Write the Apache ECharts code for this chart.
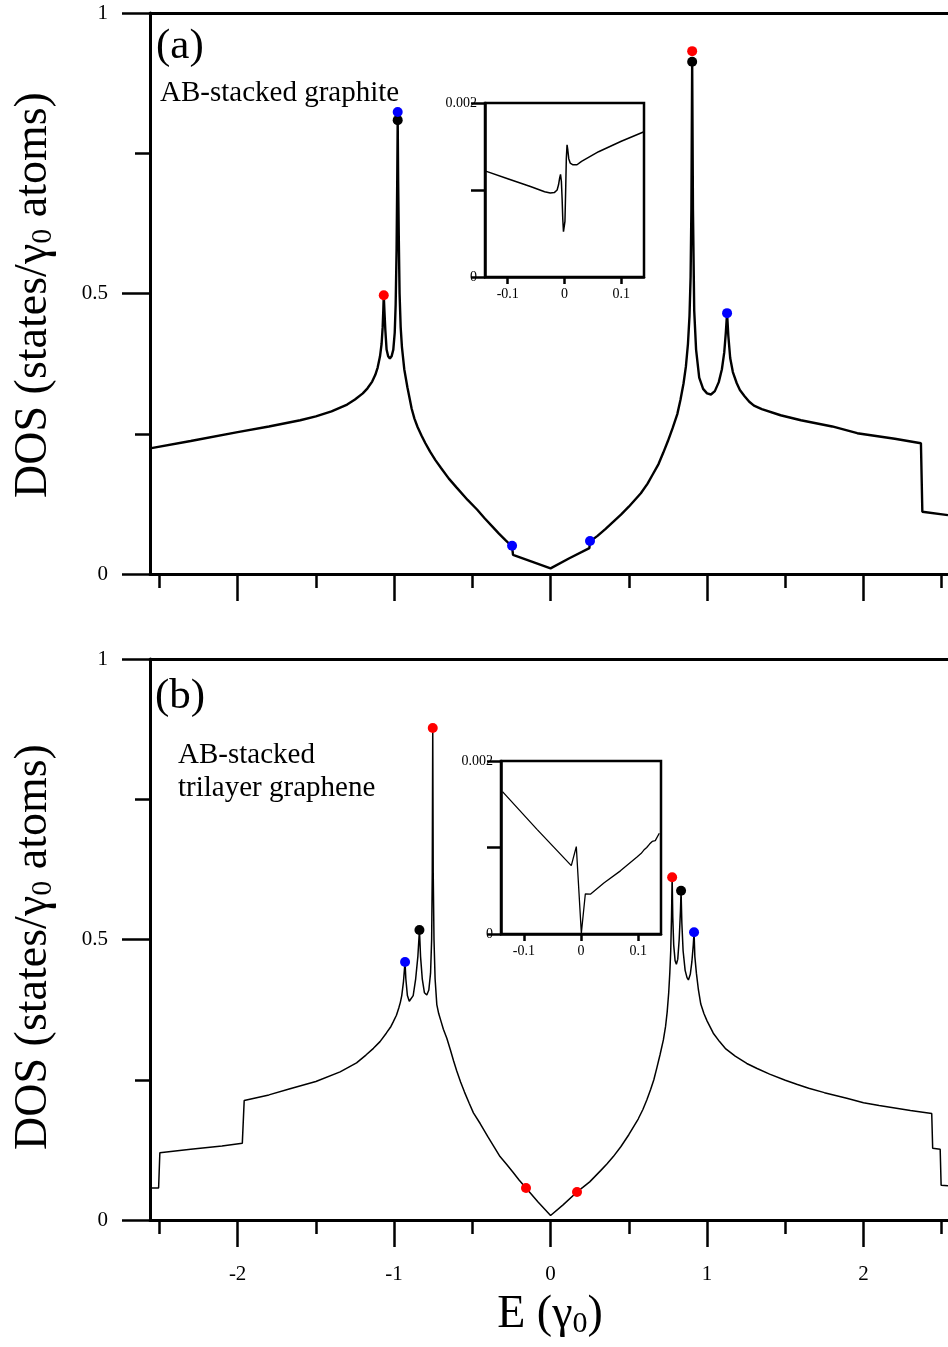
<!DOCTYPE html>
<html>
<head>
<meta charset="utf-8">
<script src="https://cdn.jsdelivr.net/npm/echarts@6/dist/echarts.min.js"></script>
<style>
  html, body { margin: 0; padding: 0; background: #fff; overflow: hidden; }
  #chart { width: 948px; height: 1347px; }
</style>
</head>
<body>
<div id="chart"></div>
<script>
// ---- (a) AB-stacked graphite: density of states ----
const energyA = [-2.56,-2.3,-2.0,-1.8,-1.6,-1.5,-1.4,-1.3,-1.25,-1.2,-1.17,-1.14,-1.12,-1.105,-1.09,-1.08,-1.073,-1.069,-1.066,-1.062,-1.056,-1.048,-1.038,-1.027,-1.016,-1.005,-0.996,-0.99,-0.984,-0.98,-0.977,-0.974,-0.97,-0.965,-0.958,-0.95,-0.935,-0.915,-0.9,-0.888,-0.87,-0.85,-0.825,-0.8,-0.77,-0.736,-0.7,-0.65,-0.6,-0.53,-0.47,-0.42,-0.37,-0.33,-0.29,-0.246,-0.24,-0.12,0,0.12,0.248,0.252,0.3,0.35,0.4,0.45,0.5,0.577,0.62,0.65,0.69,0.72,0.75,0.78,0.81,0.83,0.85,0.865,0.878,0.888,0.895,0.9,0.905,0.91,0.918,0.93,0.95,0.975,1.0,1.025,1.05,1.075,1.095,1.11,1.12,1.128,1.136,1.148,1.165,1.19,1.21,1.24,1.27,1.3,1.35,1.47,1.6,1.8,1.96,2.2,2.367,2.376,2.54];
const dosA    = [0.224,0.237,0.253,0.263,0.274,0.281,0.290,0.302,0.311,0.322,0.331,0.343,0.355,0.368,0.388,0.41,0.44,0.47,0.497,0.47,0.435,0.40,0.388,0.384,0.388,0.400,0.43,0.48,0.58,0.70,0.809,0.70,0.60,0.50,0.44,0.405,0.365,0.333,0.312,0.295,0.277,0.262,0.247,0.233,0.218,0.203,0.189,0.170,0.154,0.132,0.115,0.099,0.084,0.072,0.061,0.049,0.034,0.022,0.010,0.028,0.046,0.058,0.068,0.080,0.093,0.106,0.120,0.144,0.161,0.176,0.196,0.216,0.237,0.260,0.285,0.31,0.34,0.37,0.41,0.46,0.53,0.65,0.913,0.65,0.47,0.40,0.350,0.330,0.322,0.320,0.326,0.342,0.365,0.395,0.43,0.465,0.425,0.385,0.36,0.340,0.328,0.317,0.307,0.300,0.294,0.283,0.274,0.263,0.251,0.241,0.233,0.111,0.105];

// ---- (b) AB-stacked trilayer graphene: density of states ----
const energyB = [-2.56,-2.505,-2.497,-2.3,-2.1,-1.97,-1.958,-1.8,-1.665,-1.5,-1.345,-1.24,-1.18,-1.132,-1.09,-1.05,-1.02,-1.004,-0.985,-0.97,-0.96,-0.951,-0.94,-0.933,-0.93,-0.925,-0.915,-0.903,-0.893,-0.878,-0.862,-0.848,-0.838,-0.831,-0.82,-0.806,-0.791,-0.778,-0.767,-0.76,-0.756,-0.753,-0.75,-0.745,-0.738,-0.727,-0.715,-0.70,-0.685,-0.663,-0.64,-0.62,-0.6,-0.575,-0.55,-0.52,-0.493,-0.45,-0.4,-0.36,-0.323,-0.28,-0.24,-0.2,-0.157,-0.08,0,0.08,0.169,0.21,0.25,0.32,0.36,0.401,0.45,0.5,0.56,0.59,0.615,0.64,0.66,0.68,0.70,0.721,0.735,0.745,0.755,0.762,0.768,0.773,0.777,0.781,0.787,0.796,0.804,0.813,0.822,0.83,0.834,0.839,0.847,0.86,0.872,0.881,0.893,0.903,0.912,0.917,0.922,0.932,0.945,0.96,0.98,1.0,1.04,1.08,1.12,1.18,1.254,1.32,1.4,1.5,1.573,1.65,1.75,1.893,2.0,2.1,2.3,2.436,2.442,2.49,2.496,2.54];
const dosB    = [0.057,0.057,0.120,0.126,0.132,0.137,0.213,0.223,0.234,0.247,0.264,0.28,0.294,0.306,0.318,0.333,0.345,0.354,0.365,0.378,0.388,0.40,0.425,0.45,0.46,0.43,0.40,0.39,0.39,0.40,0.43,0.47,0.517,0.47,0.43,0.405,0.401,0.41,0.44,0.50,0.62,0.877,0.62,0.50,0.43,0.384,0.368,0.354,0.34,0.324,0.303,0.284,0.266,0.246,0.228,0.208,0.191,0.172,0.148,0.13,0.113,0.099,0.085,0.071,0.057,0.032,0.008,0.027,0.050,0.059,0.068,0.088,0.100,0.113,0.131,0.152,0.180,0.197,0.214,0.233,0.250,0.272,0.295,0.321,0.345,0.37,0.405,0.44,0.48,0.54,0.611,0.54,0.49,0.462,0.456,0.465,0.50,0.55,0.587,0.53,0.48,0.445,0.432,0.428,0.438,0.46,0.49,0.513,0.47,0.44,0.41,0.385,0.368,0.355,0.333,0.318,0.305,0.292,0.279,0.270,0.260,0.249,0.242,0.235,0.227,0.217,0.209,0.204,0.195,0.190,0.128,0.126,0.062,0.061];

// ---- low-energy close-ups near E = 0 ----
const insetEnergyA = [-0.14,-0.10,-0.06,-0.035,-0.025,-0.018,-0.013,-0.0105,-0.0085,-0.007,-0.0055,-0.0042,-0.003,-0.0018,-0.0006,0.0008,0.002,0.0032,0.0045,0.0058,0.0075,0.01,0.015,0.022,0.03,0.06,0.1,0.14];
const insetDosA    = [0.00122,0.00113,0.00104,0.00098,0.000965,0.00097,0.001,0.00106,0.00114,0.00118,0.0011,0.0009,0.00066,0.00052,0.0005,0.00064,0.00098,0.00136,0.00152,0.00146,0.00136,0.00131,0.00129,0.00129,0.00133,0.00144,0.00156,0.00167];
const insetEnergyB = [-0.1374,-0.077,-0.017,-0.0082,0.0006,0.0076,0.0164,0.04,0.069,0.098,0.105,0.11,0.115,0.12,0.1246,0.13,0.137];
const insetDosB    = [0.001646,0.00121,0.00079,0.00101,0.00001,0.000465,0.00046,0.00059,0.00073,0.00089,0.00093,0.00097,0.001,0.00104,0.00107,0.00108,0.001165];

// ---- marked van Hove peaks ----
const redPeaksA   = [[-1.066, 0.497], [0.905, 0.932]];
const bluePeaksA  = [[-0.977, 0.8235], [-0.246, 0.0505], [0.252, 0.0588], [1.128, 0.465]];
const blackPeaksA = [[-0.977, 0.809], [0.905, 0.913]];
const redPeaksB   = [[-0.753, 0.877], [-0.157, 0.057], [0.169, 0.050], [0.777, 0.611]];
const bluePeaksB  = [[-0.93, 0.46], [0.917, 0.513]];
const blackPeaksB = [[-0.838, 0.517], [0.834, 0.587]];

// ---- tick values ----
const majorTicksE = [-2, -1, 0, 1, 2];
const minorTicksE = [-2.5, -1.5, -0.5, 0.5, 1.5, 2.5];
const insetTicksE = [-0.1, 0, 0.1];
const insetTicksDos = [0, 0.001, 0.002];
const insetLabelsDos = [0, 0.002];

const FONT = '"Liberation Serif", "Times New Roman", serif';
const E_MIN = -2.56, E_MAX = 2.54;

const zip = (xs, ys) => xs.map((x, i) => [x, ys[i]]);

function mainAxesX(gridIndex, withLabels) {
  return [
    { // major ticks
      gridIndex, type: 'value', position: 'bottom', min: E_MIN, max: E_MAX,
      axisLine: { show: true, onZero: false, lineStyle: { color: '#000', width: 3 } },
      axisTick: { show: true, customValues: majorTicksE, length: 27, lineStyle: { color: '#000', width: 2.5 } },
      axisLabel: { show: withLabels, customValues: majorTicksE, margin: 44, fontFamily: FONT, fontSize: 21, color: '#000' },
      splitLine: { show: false }
    },
    { // minor ticks
      gridIndex, type: 'value', position: 'bottom', min: E_MIN, max: E_MAX,
      axisLine: { show: false, onZero: false },
      axisTick: { show: true, customValues: minorTicksE, length: 14, lineStyle: { color: '#000', width: 2.5 } },
      axisLabel: { show: false },
      splitLine: { show: false }
    },
    { // top frame line
      gridIndex, type: 'value', position: 'top', min: E_MIN, max: E_MAX,
      axisLine: { show: true, onZero: false, lineStyle: { color: '#000', width: 3 } },
      axisTick: { show: false }, axisLabel: { show: false }, splitLine: { show: false }
    }
  ];
}

function mainAxisY(gridIndex) {
  return {
    gridIndex, type: 'value', position: 'left', min: 0, max: 1, interval: 0.5,
    axisLine: { show: true, onZero: false, lineStyle: { color: '#000', width: 3 } },
    axisTick: { show: true, length: 28, lineStyle: { color: '#000', width: 2.5 } },
    minorTick: { show: true, splitNumber: 2, length: 15, lineStyle: { color: '#000', width: 2.5 } },
    axisLabel: { margin: 42, fontFamily: FONT, fontSize: 21, color: '#000' },
    splitLine: { show: false }, minorSplitLine: { show: false }
  };
}

function insetAxisX(gridIndex) {
  return {
    gridIndex, type: 'value', position: 'bottom', min: -0.14, max: 0.14,
    axisLine: { show: true, onZero: false, lineStyle: { color: '#000', width: 2.5 } },
    axisTick: { show: true, customValues: insetTicksE, length: 7, lineStyle: { color: '#000', width: 2.5 } },
    axisLabel: { customValues: insetTicksE, margin: 10, fontFamily: FONT, fontSize: 14, color: '#000' },
    splitLine: { show: false }
  };
}

function insetAxisY(gridIndex) {
  return {
    gridIndex, type: 'value', position: 'left', min: 0, max: 0.002,
    axisLine: { show: true, onZero: false, lineStyle: { color: '#000', width: 2.5 } },
    axisTick: { show: true, customValues: insetTicksDos, length: 14, lineStyle: { color: '#000', width: 2.5 } },
    axisLabel: { customValues: insetLabelsDos, margin: 8, fontFamily: FONT, fontSize: 14, color: '#000' },
    splitLine: { show: false }
  };
}

function curve(xi, yi, data, width, z) {
  return {
    type: 'line', xAxisIndex: xi, yAxisIndex: yi, data, showSymbol: false,
    lineStyle: { color: '#000', width }, z, silent: true
  };
}

function dots(xi, yi, data, color) {
  return {
    type: 'scatter', xAxisIndex: xi, yAxisIndex: yi, data, symbol: 'circle', symbolSize: 10,
    itemStyle: { color, opacity: 1 }, z: 5, silent: true
  };
}

const richY = {
  t: { fontFamily: FONT, fontSize: 46, color: '#000', lineHeight: 48 },
  s: { fontFamily: FONT, fontSize: 30, color: '#000', lineHeight: 12, verticalAlign: 'bottom' }
};

const option = {
  animation: false,
  backgroundColor: '#fff',
  grid: [
    { left: 150, top: 13, width: 798, height: 561, outerBoundsMode: 'none' },
    { left: 150, top: 659, width: 798, height: 561, outerBoundsMode: 'none' },
    { left: 485, top: 103, width: 159, height: 174, show: true, backgroundColor: '#fff', borderColor: '#000', borderWidth: 2.5, outerBoundsMode: 'none' },
    { left: 501, top: 761, width: 160, height: 173, show: true, backgroundColor: '#fff', borderColor: '#000', borderWidth: 2.5, outerBoundsMode: 'none' }
  ],
  xAxis: [
    ...mainAxesX(0, false),   // 0,1,2
    ...mainAxesX(1, true),    // 3,4,5
    insetAxisX(2),            // 6
    insetAxisX(3)             // 7
  ],
  yAxis: [
    mainAxisY(0),   // 0
    mainAxisY(1),   // 1
    insetAxisY(2),  // 2
    insetAxisY(3)   // 3
  ],
  series: [
    curve(0, 0, zip(energyA, dosA), 2.4, 3),
    dots(0, 0, blackPeaksA, '#000000'),
    dots(0, 0, redPeaksA, '#ff0000'),
    dots(0, 0, bluePeaksA, '#0000ff'),
    curve(3, 1, zip(energyB, dosB), 1.5, 3),
    dots(3, 1, blackPeaksB, '#000000'),
    dots(3, 1, redPeaksB, '#ff0000'),
    dots(3, 1, bluePeaksB, '#0000ff'),
    curve(6, 2, zip(insetEnergyA, insetDosA), 1.5, 10),
    curve(7, 3, zip(insetEnergyB, insetDosB), 1.3, 10)
  ],
  graphic: [
    { type: 'text', left: 156, top: 25, style: { text: '(a)', fontFamily: FONT, fontSize: 43, fill: '#000' } },
    { type: 'text', left: 160, top: 79, style: { text: 'AB-stacked graphite', fontFamily: FONT, fontSize: 29, fill: '#000' } },
    { type: 'text', left: 155, top: 675, style: { text: '(b)', fontFamily: FONT, fontSize: 43, fill: '#000' } },
    { type: 'text', left: 178, top: 739, style: { text: 'AB-stacked\ntrilayer graphene', fontFamily: FONT, fontSize: 29, lineHeight: 33, fill: '#000' } },
    { type: 'text', x: 34, y: 295, rotation: Math.PI / 2,
      style: { text: '{t|DOS (states/γ}{s|0}{t| atoms)}', rich: richY, align: 'center', verticalAlign: 'middle' } },
    { type: 'text', x: 34, y: 947, rotation: Math.PI / 2,
      style: { text: '{t|DOS (states/γ}{s|0}{t| atoms)}', rich: richY, align: 'center', verticalAlign: 'middle' } },
    { type: 'text', x: 550, y: 1315,
      style: { text: '{t|E (γ}{s|0}{t|)}', rich: richY, align: 'center', verticalAlign: 'middle' } }
  ]
};

const chart = echarts.init(document.getElementById('chart'), null, { renderer: 'canvas' });
chart.setOption(option);
</script>
</body>
</html>
